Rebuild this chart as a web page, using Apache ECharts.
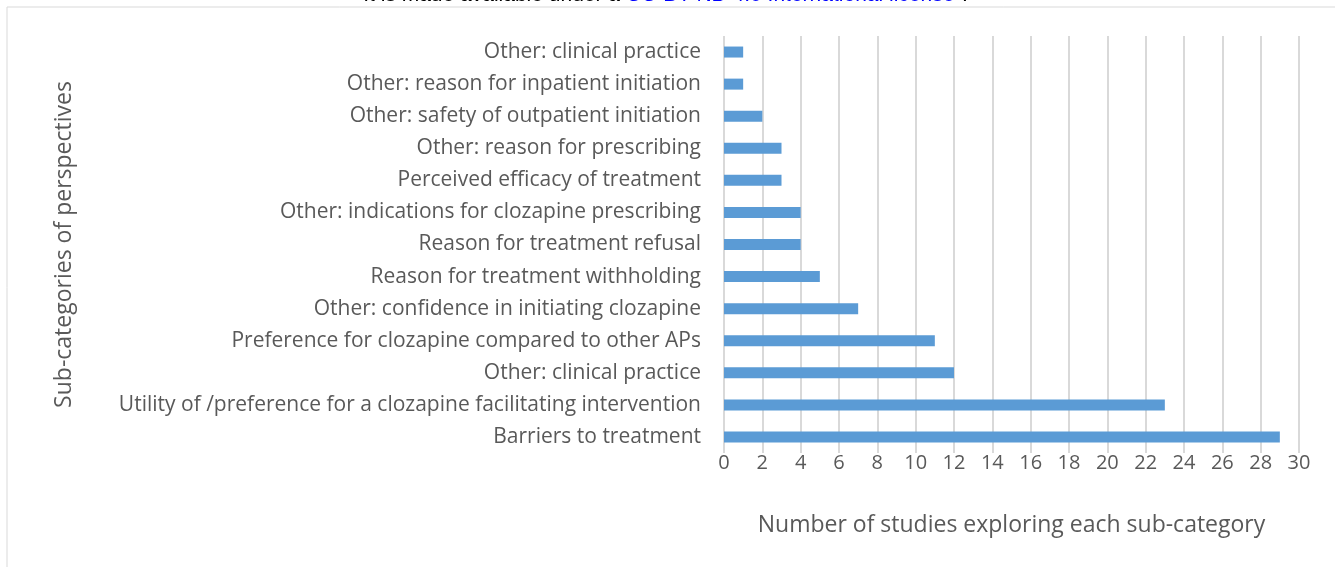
<!DOCTYPE html>
<html><head><meta charset="utf-8">
<script src="https://cdn.jsdelivr.net/npm/echarts@6/dist/echarts.min.js"></script>
<style>html,body{margin:0;padding:0;background:#fff}#c{width:1335px;height:567px}</style>
</head><body><div id="c"></div>
<script>
const categories = [
  "Barriers to treatment",
  "Utility of /preference for a clozapine facilitating intervention",
  "Other: clinical practice",
  "Preference for clozapine compared to other APs",
  "Other: confidence in initiating clozapine",
  "Reason for treatment withholding",
  "Reason for treatment refusal",
  "Other: indications for clozapine prescribing",
  "Perceived efficacy of treatment",
  "Other: reason for prescribing",
  "Other: safety of outpatient initiation",
  "Other: reason for inpatient initiation",
  "Other: clinical practice"
];
const values = [29, 23, 12, 11, 7, 5, 4, 4, 3, 3, 2, 1, 1];
const xTicks = [0,2,4,6,8,10,12,14,16,18,20,22,24,26,28,30];
const xTitle = "Number of studies exploring each sub-category";
const yTitle = "Sub-categories of perspectives";

const FONT = "'Open Sans', sans-serif";
const chart = echarts.init(document.getElementById('c'), null, {renderer:'canvas'});
chart.setOption({
  animation: false,
  backgroundColor: '#fff',
  textStyle: {fontFamily: FONT},
  grid: {left: 724, right: 36, top: 36, bottom: 114, containLabel: false},
  graphic: [
    {type:'rect', shape:{x:7, y:7, width:1400, height:600}, style:{fill:'none', stroke:'#d9d9d9', lineWidth:1}},
    {type:'text', x: 620, y: -15, style:{text:'It is made available under a', fill:'#000', font:'21px Arial, sans-serif', align:'right'}},
    {type:'text', x: 626, y: -15, style:{text:'CC-BY-ND 4.0 International license', fill:'#0000ff', font:'21px Arial, sans-serif'}},
    {type:'text', x: 962, y: -15, style:{text:'.', fill:'#000', font:'21px Arial, sans-serif'}}
  ],
  xAxis: {
    type: 'value', min: 0, max: 30, interval: 2,
    name: xTitle, nameLocation: 'middle', nameGap: 61,
    nameTextStyle: {fontSize: 23, color: '#595959', fontFamily: FONT},
    axisLine: {show: false}, axisTick: {show: false},
    axisLabel: {fontSize: 20, color: '#595959', margin: 0, fontFamily: FONT,
      formatter: v => xTicks.includes(v) ? String(v) : ''},
    splitLine: {show: true, lineStyle: {color: '#d9d9d9', width: 2}}
  },
  yAxis: {
    type: 'category', data: categories,
    name: yTitle, nameLocation: 'middle', nameGap: 648, nameRotate: 90,
    nameTextStyle: {fontSize: 23, color: '#595959', fontFamily: FONT},
    axisLine: {show: false}, axisTick: {show: false},
    axisLabel: {fontSize: 21, color: '#595959', margin: 23, fontFamily: FONT},
    splitLine: {show: false}
  },
  series: [{
    type: 'bar', data: values, barWidth: 11,
    itemStyle: {color: '#5b9bd5'}
  }]
});
</script></body></html>
